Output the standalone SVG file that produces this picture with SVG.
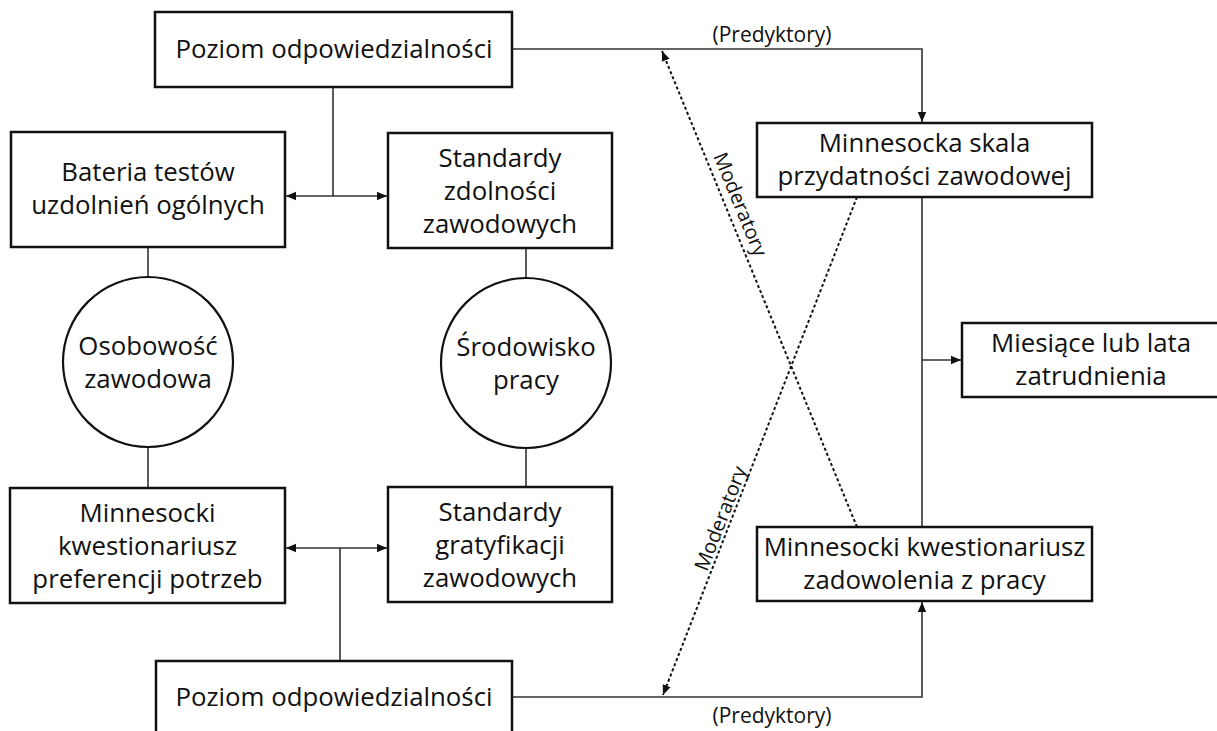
<svg xmlns="http://www.w3.org/2000/svg" width="1217" height="731" viewBox="0 0 1217 731">
<style>
.box{fill:#fff;stroke:#111;stroke-width:2.5}
.circ{fill:#fff;stroke:#111;stroke-width:2.2}
.t{font-family:"Open Sans","Noto Sans",sans-serif;font-size:25.8px;fill:#111;text-anchor:middle}
.lbl{font-family:"Open Sans","Noto Sans",sans-serif;font-size:21px;fill:#111;text-anchor:middle}
.mod{font-family:"Open Sans","Noto Sans",sans-serif;font-size:20px;fill:#111;text-anchor:middle}
.ln{fill:none;stroke:#333;stroke-width:1.6}
.dot{fill:none;stroke:#111;stroke-width:2;stroke-dasharray:3 2.5}
</style>
<defs>
<marker id="ah" viewBox="0 0 10 10" refX="10" refY="5" markerWidth="10" markerHeight="10" markerUnits="userSpaceOnUse" orient="auto-start-reverse">
<path d="M0,0.8 L10,5 L0,9.2 Z" fill="#111"/>
</marker>
</defs>
<g id="connectors">
<path class="ln" d="M512,49 H922 V122" marker-end="url(#ah)"/>
<path class="ln" d="M333,87 V196"/>
<path class="ln" d="M286,196 H387" marker-start="url(#ah)" marker-end="url(#ah)"/>
<path class="ln" d="M148,247 V278"/>
<path class="ln" d="M148,447 V488"/>
<path class="ln" d="M526,248 V278"/>
<path class="ln" d="M526,448 V487"/>
<path class="ln" d="M286,548 H387" marker-start="url(#ah)" marker-end="url(#ah)"/>
<path class="ln" d="M340,548 V661"/>
<path class="ln" d="M512,697 H922 V602" marker-end="url(#ah)"/>
<path class="ln" d="M922,197 V527"/>
<path class="ln" d="M922,360 H961" marker-end="url(#ah)"/>
<path class="dot" d="M857,527 L662,51" marker-end="url(#ah)"/>
<path class="dot" d="M857,197 L663,695" marker-end="url(#ah)"/>
<text class="lbl" x="772" y="42">(Predyktory)</text>
<text class="lbl" x="772" y="723">(Predyktory)</text>
<text class="mod" transform="translate(734,207) rotate(67.7)">Moderatory</text>
<text class="mod" transform="translate(727,521) rotate(-68.7)">Moderatory</text>
</g>
<g id="poziom-top">
<rect class="box" x="155" y="12" width="357" height="75"/>
<text class="t" x="334" y="58">Poziom odpowiedzialności</text>
</g>
<g id="bateria">
<rect class="box" x="11" y="132" width="274" height="115"/>
<text class="t" x="148" y="181">Bateria testów</text>
<text class="t" x="148" y="214">uzdolnień ogólnych</text>
</g>
<g id="standardy-zdolnosci">
<rect class="box" x="388" y="133" width="224" height="115"/>
<text class="t" x="500" y="167">Standardy</text>
<text class="t" x="500" y="200">zdolności</text>
<text class="t" x="500" y="233">zawodowych</text>
</g>
<g id="skala">
<rect class="box" x="757" y="123" width="335" height="74"/>
<text class="t" x="924.5" y="152">Minnesocka skala</text>
<text class="t" x="924.5" y="185">przydatności zawodowej</text>
</g>
<g id="osobowosc">
<circle class="circ" cx="148" cy="362" r="85"/>
<text class="t" x="148" y="355">Osobowość</text>
<text class="t" x="148" y="388">zawodowa</text>
</g>
<g id="srodowisko">
<circle class="circ" cx="526" cy="363" r="85"/>
<text class="t" x="526" y="356">Środowisko</text>
<text class="t" x="526" y="389">pracy</text>
</g>
<g id="miesiace">
<rect class="box" x="962" y="323" width="270" height="74"/>
<text class="t" x="1091" y="352">Miesiące lub lata</text>
<text class="t" x="1091" y="385">zatrudnienia</text>
</g>
<g id="preferencje">
<rect class="box" x="10" y="488" width="275" height="115"/>
<text class="t" x="147.5" y="522">Minnesocki</text>
<text class="t" x="147.5" y="555">kwestionariusz</text>
<text class="t" x="147.5" y="588">preferencji potrzeb</text>
</g>
<g id="gratyfikacje">
<rect class="box" x="388" y="487" width="224" height="115"/>
<text class="t" x="500" y="521">Standardy</text>
<text class="t" x="500" y="554">gratyfikacji</text>
<text class="t" x="500" y="587">zawodowych</text>
</g>
<g id="zadowolenie">
<rect class="box" x="757" y="527" width="335" height="74"/>
<text class="t" x="924.5" y="556">Minnesocki kwestionariusz</text>
<text class="t" x="924.5" y="589">zadowolenia z pracy</text>
</g>
<g id="poziom-bottom">
<rect class="box" x="156" y="661" width="356" height="100"/>
<text class="t" x="334" y="706">Poziom odpowiedzialności</text>
</g>
</svg>
